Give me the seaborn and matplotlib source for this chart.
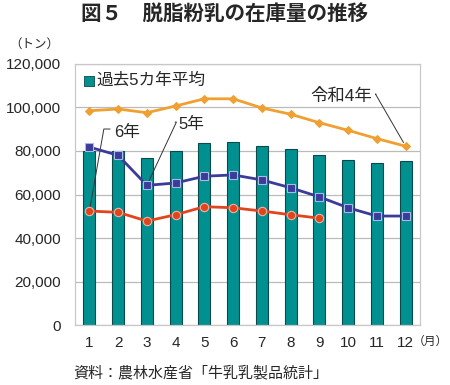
import matplotlib
matplotlib.use("Agg")
import matplotlib.pyplot as plt
import seaborn as sns
import pandas as pd
import numpy as np

months = ["1", "2", "3", "4", "5", "6", "7", "8", "9", "10", "11", "12"]
avg5 = [80100, 80000, 76900, 79800, 83600, 84200, 82500, 81100, 78300, 75700, 74500, 75600]
r4 = [98500, 99300, 97600, 100700, 104000, 104000, 99800, 96900, 93000, 89500, 85700, 82200]
r5 = [81800, 78000, 64200, 65300, 68400, 69000, 66700, 63100, 58900, 53900, 50100, 50100]
r6 = [52400, 51800, 47800, 50700, 54400, 53900, 52400, 50700, 49100]
yticks = [0, 20000, 40000, 60000, 80000, 100000, 120000]

sns.set_theme(style="white")
plt.rcParams['font.family'] = ['Liberation Sans', 'Noto Sans CJK JP', 'DejaVu Sans']

fig = plt.figure(figsize=(4.5, 3.85), dpi=100)
ax = fig.add_axes([0.1667, 0.1558, 0.7666, 0.678])

df = pd.DataFrame({"month": months, "avg": avg5})
sns.barplot(data=df, x="month", y="avg", ax=ax, color="#009090", saturation=1,
            width=0.42, edgecolor="#0a4a4a", linewidth=0.8, zorder=2)

x = np.arange(12)
sns.lineplot(x=x, y=r4, ax=ax, color="#F0A030", lw=2, marker="D", markersize=4,
             markeredgecolor="#F0A030", zorder=4)
sns.lineplot(x=x, y=r5, ax=ax, color="#3B3B9A", lw=2, marker="s", markersize=5.5,
             markerfacecolor="#3B3B9A", markeredgecolor="#A8B8E8", markeredgewidth=0.8, zorder=4)
sns.lineplot(x=x[:len(r6)], y=r6, ax=ax, color="#E0451E", lw=2, marker="o", markersize=6,
             markerfacecolor="#E0451E", markeredgecolor="#F5B0A0", markeredgewidth=0.8, zorder=5)

ax.set_xlim(-0.5, 11.5)
ax.set_ylim(0, 120000)
ax.set_yticks(yticks)
ax.set_yticklabels([f"{v:,}" for v in yticks], fontsize=11)
ax.set_xticks(x)
ax.set_xticklabels(months, fontsize=11)
ax.tick_params(axis="y", length=0, pad=10)
ax.tick_params(axis="x", length=0, pad=8)
ax.set_xlabel("")
ax.set_ylabel("")
ax.yaxis.grid(True, color="#BBBBBB", lw=0.9, zorder=0)
ax.set_axisbelow(True)
for s in ax.spines.values():
    s.set_color("#C8C8C8")
    s.set_linewidth(0.9)

# legend
ax.scatter([-0.03], [112400], marker="s", s=42, color="#009090", edgecolor="#0a4a4a", linewidth=0.6, zorder=6, clip_on=False)
ax.text(0.25, 112400, "過去5カ年平均", fontsize=12, va="center", ha="left")

# annotations
line_kw = dict(arrowstyle="-", color="#333333", lw=0.7, shrinkA=0, shrinkB=3)
ax.text(1.31, 88300, "6年", fontsize=12, ha="center", va="center")
ax.annotate("", xy=(0, r6[0]), xytext=(0.72, 90100),
            arrowprops=dict(line_kw, connectionstyle="angle,angleA=0,angleB=80,rad=0"))
ax.text(3.55, 92000, "5年", fontsize=12, ha="center", va="center")
ax.annotate("", xy=(2, r5[2]), xytext=(2.98, 93300),
            arrowprops=dict(line_kw, connectionstyle="angle,angleA=0,angleB=65,rad=0"))
ax.text(8.75, 105300, "令和4年", fontsize=12.5, ha="center", va="center")
ax.annotate("", xy=(11, r4[11]), xytext=(9.97, 106200),
            arrowprops=dict(line_kw, connectionstyle="angle,angleA=0,angleB=120,rad=0"))

fig.text(0.498, 0.961, "図５　脱脂粉乳の在庫量の推移", fontsize=14.8, fontweight="bold", ha="center", va="center")
fig.text(0.0756, 0.883, "（トン）", fontsize=9, ha="center", va="center")
fig.text(0.918, 0.112, "（月）", fontsize=8.5, ha="left", va="center")
fig.text(0.162, 0.031, "資料：農林水産省「牛乳乳製品統計」", fontsize=10.8, ha="left", va="center")

fig.savefig("out.png", dpi=100)
